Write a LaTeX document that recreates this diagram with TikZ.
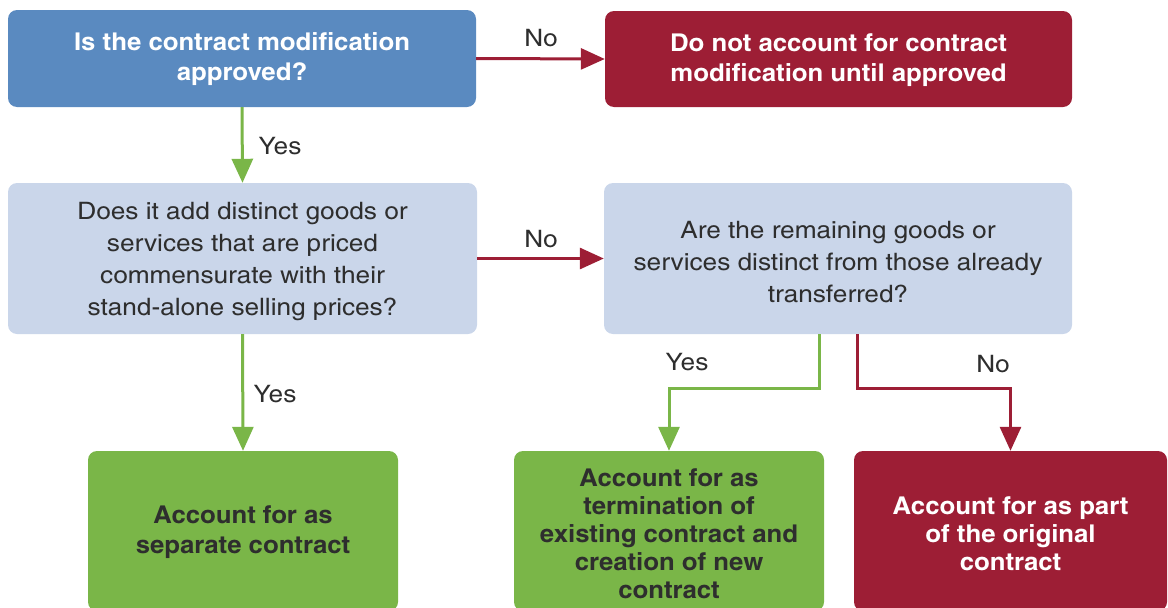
\documentclass[tikz,border=0pt]{standalone}
\usepackage{fontspec}
\setmainfont{texgyreheroscn-regular.otf}[BoldFont=texgyreheroscn-bold.otf]
\newfontfamily\boldcn{texgyreheroscn-bold.otf}[FakeStretch=1.28]
\newfontfamily\lightcn{texgyreheroscn-regular.otf}[FakeStretch=1.33]
\usetikzlibrary{arrows.meta}
\definecolor{cblue}{HTML}{5A8AC0}
\definecolor{cred}{HTML}{9D1E35}
\definecolor{clight}{HTML}{CAD6EA}
\definecolor{cgreen}{HTML}{7AB648}
\definecolor{ctext}{HTML}{2E2E2E}
\tikzset{
  box/.style={rectangle, rounded corners=9pt, draw=none, inner sep=0pt},
  txt/.style={align=center, inner sep=0pt},
  boldtxt/.style={txt, font=\fontsize{24.5}{30}\boldcn},
  boldtight/.style={txt, font=\fontsize{24.5}{28}\boldcn},
  lighttxt/.style={txt, font=\fontsize{24}{32}\lightcn, text=ctext},
  lbl/.style={font=\fontsize{24}{28}\lightcn, text=ctext, inner sep=0pt},
  redarrow/.style={draw=cred, line width=3pt, -{Triangle[length=24pt,width=21pt]}},
  greenarrow/.style={draw=cgreen, line width=3pt, -{Triangle[length=24pt,width=21pt]}},
}
\begin{document}
\begin{tikzpicture}[x=1pt,y=-1pt]
\useasboundingbox (0,0) rectangle (1168,608);
\clip (0,0) rectangle (1168,608);
% boxes
\node[box, fill=cblue, minimum width=468pt, minimum height=97pt] (a) at (242,58.5) {};
\node[box, fill=cred, minimum width=467pt, minimum height=96pt] (b) at (838.5,59) {};
\node[box, fill=clight, minimum width=469pt, minimum height=151pt] (c) at (242.5,258.5) {};
\node[box, fill=clight, minimum width=468pt, minimum height=151pt] (d) at (838,258.5) {};
\node[box, fill=cgreen, minimum width=310pt, minimum height=160pt] (e) at (243,531) {};
\node[box, fill=cgreen, minimum width=310pt, minimum height=160pt] (f) at (669,531) {};
\node[box, fill=cred, minimum width=313pt, minimum height=160pt] (g) at (1010.5,531) {};
% texts
\node[boldtxt, text=white] (at) at ([yshift=-1pt]a.center) {Is the contract modification\\approved?};
\node[boldtxt, text=white] (bt) at ([yshift=-1pt]b.center) {Do not account for contract\\modification until approved};
\node[lighttxt] (ct) at ([yshift=-3pt]c.center) {Does it add distinct goods or\\services that are priced\\commensurate with their\\stand-alone selling prices?};
\node[lighttxt] (dt) at ([yshift=-4pt]d.center) {Are the remaining goods or\\services distinct from those already\\transferred?};
\node[boldtxt, text=ctext] (et) at ([yshift=-1pt]e.center) {Account for as\\separate contract};
\node[boldtight, text=ctext] (ft) at ([yshift=-3pt]f.center) {Account for as\\termination of\\existing contract and\\creation of new\\contract};
\node[boldtight, text=white] (gt) at ([yshift=-3pt]g.center) {Account for as part\\of the original\\contract};
% connectors
\draw[redarrow] (a.east) -- (b.west);
\draw[greenarrow] (a.south) -- (c.north);
\draw[redarrow] (c.east) -- (d.west);
\draw[greenarrow] (c.south) -- (e.north);
\coordinate (dy) at ([xshift=-19pt]d.south);
\coordinate (dn) at ([xshift=19pt]d.south);
\draw[greenarrow] (dy) -- ++(0,54) -| (f.north);
\draw[redarrow] (dn) -- ++(0,54) -| (g.north);
% labels
\node[lbl] (l1) at (541,38) {No};
\node[lbl] (l2) at (280,146) {Yes};
\node[lbl] (l3) at (541,239) {No};
\node[lbl] (l4) at (275,394) {Yes};
\node[lbl] (l5) at (687,362) {Yes};
\node[lbl] (l6) at (993,364) {No};
\end{tikzpicture}
\end{document}
